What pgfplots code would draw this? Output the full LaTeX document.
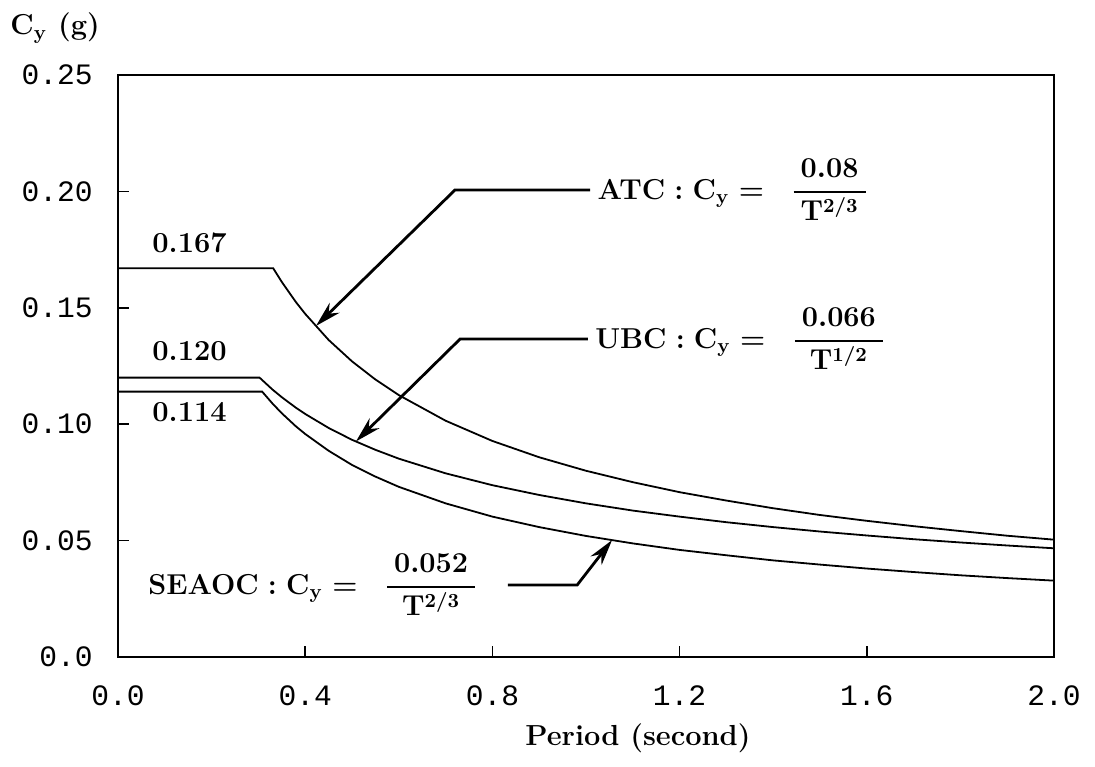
\documentclass[border=0pt]{standalone}
\usepackage{amsmath}
\usepackage{fontspec}
\usepackage{pgfplots}
\pgfplotsset{compat=1.18}
\usetikzlibrary{arrows.meta}
\newfontfamily\ticksfont{Liberation Mono}

% formula with a roomy fraction bar
\newcommand{\cyfrac}[2]{\hspace{9pt}\dfrac{\hspace{3.5pt}#1\hspace{3.5pt}}{\hspace{3.5pt}#2\hspace{3.5pt}}}

\begin{document}
\begin{tikzpicture}[
  lbl/.style={font=\fontsize{14.5}{17}\selectfont\bfseries\boldmath, inner sep=0pt},
  callout/.style={line width=1.4pt, -{Stealth[length=13pt,width=7pt]}},
]
\begin{axis}[
  scale only axis, width=468pt, height=291pt,
  xmin=0, xmax=2, ymin=0, ymax=0.25,
  axis line style={line width=0.9pt},
  tick align=inside, tick pos=left,
  xtick={0,0.4,0.8,1.2,1.6,2.0},
  xticklabels={0.0,0.4,0.8,1.2,1.6,2.0},
  ytick={0,0.05,0.10,0.15,0.20,0.25},
  yticklabels={0.0,0.05,0.10,0.15,0.20,0.25},
  major tick length=5.5pt,
  tick style={line width=0.8pt, black},
  ticklabel style={font=\fontsize{14.8}{16}\ticksfont},
  xticklabel style={anchor=north, inner sep=0pt, yshift=-14pt},
  yticklabel style={anchor=east, inner sep=0pt, xshift=-12.5pt},
  clip=false,
]
% ATC: C_y = 0.08 / T^(2/3), capped at 0.167
\addplot[black, line width=0.9pt] coordinates {
  (0,0.167) (0.3316,0.167) (0.35,0.1611) (0.38,0.1525) (0.40,0.1474)
  (0.45,0.1362) (0.50,0.1270) (0.55,0.1192) (0.60,0.1125) (0.70,0.1015)
  (0.80,0.0928) (0.90,0.0858) (1.00,0.0800) (1.10,0.0751) (1.20,0.0708)
  (1.30,0.0672) (1.40,0.0639) (1.50,0.0610) (1.60,0.0585) (1.70,0.0562)
  (1.80,0.0541) (1.90,0.0521) (2.00,0.0504)
};
% UBC: C_y = 0.066 / T^(1/2), capped at 0.120
\addplot[black, line width=0.9pt] coordinates {
  (0,0.120) (0.3025,0.120) (0.33,0.1149) (0.35,0.1116) (0.38,0.1071)
  (0.40,0.1044) (0.45,0.0984) (0.50,0.0933) (0.55,0.0890) (0.60,0.0852)
  (0.70,0.0789) (0.80,0.0738) (0.90,0.0696) (1.00,0.0660) (1.10,0.0629)
  (1.20,0.0603) (1.30,0.0579) (1.40,0.0558) (1.50,0.0539) (1.60,0.0522)
  (1.70,0.0506) (1.80,0.0492) (1.90,0.0479) (2.00,0.0467)
};
% SEAOC: C_y = 0.052 / T^(2/3), capped at 0.114
\addplot[black, line width=0.9pt] coordinates {
  (0,0.114) (0.308,0.114) (0.33,0.1089) (0.35,0.1047) (0.38,0.0991)
  (0.40,0.0958) (0.45,0.0886) (0.50,0.0825) (0.55,0.0775) (0.60,0.0731)
  (0.70,0.0660) (0.80,0.0603) (0.90,0.0558) (1.00,0.0520) (1.10,0.0488)
  (1.20,0.0460) (1.30,0.0437) (1.40,0.0415) (1.50,0.0397) (1.60,0.0380)
  (1.70,0.0365) (1.80,0.0351) (1.90,0.0339) (2.00,0.0328)
};

% plateau values
\node[lbl, anchor=west] at (axis cs:0.0726,0.178) {0.167};
\node[lbl, anchor=west] at (axis cs:0.0726,0.1314) {0.120};
\node[lbl, anchor=west] at (axis cs:0.0726,0.1052) {0.114};

% callouts
\draw[callout] (axis cs:1.009,0.2006) -- (axis cs:0.720,0.2006) -- (axis cs:0.423,0.1422);
\node[lbl, anchor=west] at (axis cs:1.024,0.2006)
  {$\mathbf{ATC} : \mathbf{C_y} = \cyfrac{0.08}{\mathbf{T}^{2/3}}$};

\draw[callout] (axis cs:1.004,0.1366) -- (axis cs:0.731,0.1366) -- (axis cs:0.5085,0.0926);
\node[lbl, anchor=west] at (axis cs:1.019,0.1366)
  {$\mathbf{UBC} : \mathbf{C_y} = \cyfrac{0.066}{\mathbf{T}^{1/2}}$};

\draw[callout] (axis cs:0.833,0.0309) -- (axis cs:0.981,0.0309) -- (axis cs:1.0556,0.0502);
\node[lbl, anchor=east] at (axis cs:0.769,0.0309)
  {$\mathbf{SEAOC} : \mathbf{C_y} = \cyfrac{0.052}{\mathbf{T}^{2/3}}$};
\end{axis}

% axis titles
\node[lbl, anchor=base west] at ([xshift=-54pt,yshift=20pt]current axis.north west)
  {$\mathbf{C_y}$ (g)};
\node[lbl, anchor=base west] at ([xshift=203.5pt,yshift=-44pt]current axis.south west)
  {Period (second)};

\pgfresetboundingbox
\path ([xshift=-59pt,yshift=-54.5pt]current axis.south west)
  rectangle ([xshift=20.5pt,yshift=37.5pt]current axis.north east);
\end{tikzpicture}
\end{document}
